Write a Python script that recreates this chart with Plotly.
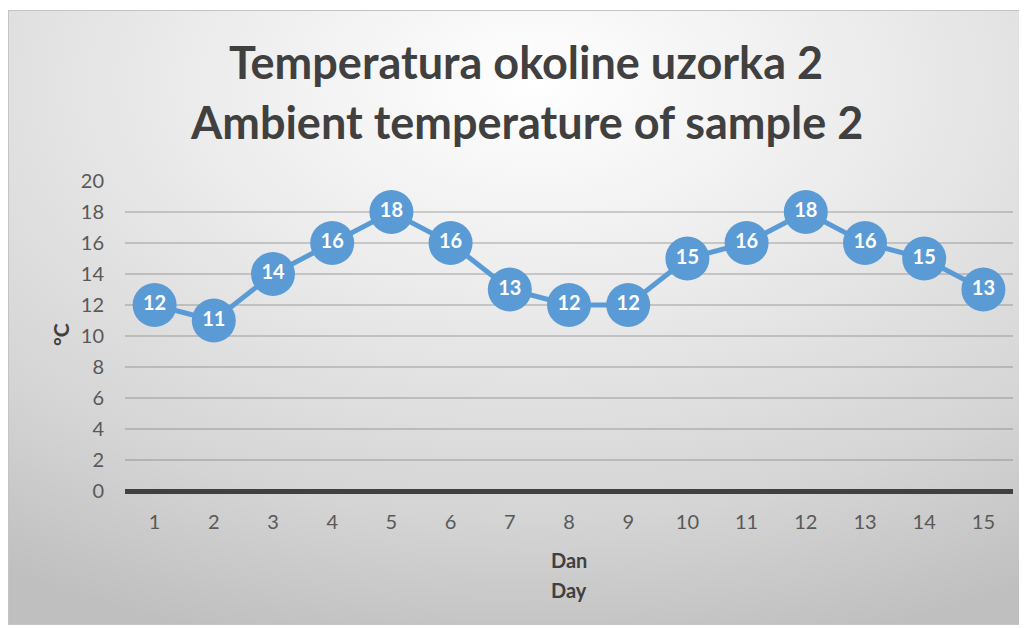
import base64
import plotly.graph_objects as go

days = [str(i) for i in range(1, 16)]
temps = [12, 11, 14, 16, 18, 16, 13, 12, 12, 15, 16, 18, 16, 15, 13]
y_ticks = list(range(0, 21, 2))
title_lines = ["Temperatura okoline uzorka 2", "Ambient temperature of sample 2"]
x_title_lines = ["Dan", "Day"]
y_title = "°C"

# page offset caused by default body margin
OFF = 8
W, H = 1027 - OFF, 628 - OFF
# plot area in page pixels
PX0, PX1, PY0, PY1 = 125, 1013, 181, 491
L, R, T, B = PX0 - OFF, (W + OFF) - PX1, PY0 - OFF, (H + OFF) - PY1
PW, PH = PX1 - PX0, PY1 - PY0

def px_to_paper_x(px):
    return (px - PX0) / PW

def px_to_paper_y(py):
    return (PY1 - py) / PH

svg = (
    '<svg xmlns="http://www.w3.org/2000/svg" width="1012" height="615" viewBox="0 0 1012 615" preserveAspectRatio="none">'
    '<defs><radialGradient id="g" cx="0.52" cy="0.12" r="0.95" fx="0.52" fy="0.12">'
    '<stop offset="0" stop-color="#ffffff"/>'
    '<stop offset="0.35" stop-color="#ececec"/>'
    '<stop offset="0.75" stop-color="#d4d4d4"/>'
    '<stop offset="1" stop-color="#bfbfbf"/>'
    '</radialGradient></defs>'
    '<rect x="0.5" y="0.5" width="1011" height="614" fill="url(#g)" stroke="#c4c4c4" stroke-width="1"/>'
    '</svg>'
)
src = "data:image/svg+xml;base64," + base64.b64encode(svg.encode()).decode()

fig = go.Figure()
fig.add_trace(go.Scatter(
    x=days, y=temps,
    mode="lines+markers+text",
    line=dict(color="#5b9bd5", width=5),
    marker=dict(size=44, color="#5b9bd5", line=dict(width=0)),
    text=[str(v) for v in temps],
    textposition="middle center",
    textfont=dict(family="Lato", size=20, color="white", weight="bold"),
    cliponaxis=False,
    hoverinfo="skip",
))

def ann(text, px, py, size, angle=0, color="#404040"):
    return dict(text=text, x=px_to_paper_x(px), y=px_to_paper_y(py),
                xref="paper", yref="paper", showarrow=False,
                xanchor="center", yanchor="middle", textangle=angle,
                font=dict(family="Lato", size=size, color=color))

annotations = [
    ann(f"<b>{title_lines[0]}</b>", 526, 62, 45),
    ann(f"<b>{title_lines[1]}</b>", 526, 122, 45),
    ann(f"<b>{x_title_lines[0]}</b>", 569, 560, 20),
    ann(f"<b>{x_title_lines[1]}</b>", 569, 590, 20),
    ann(f"<b>{y_title}</b>", 60, 335, 21, angle=-90),
]

fig.update_layout(
    width=W, height=H,
    margin=dict(l=L, r=R, t=T, b=B, pad=0),
    paper_bgcolor="white",
    plot_bgcolor="rgba(0,0,0,0)",
    showlegend=False,
    annotations=annotations,
    images=[dict(source=src, xref="paper", yref="paper",
                 x=px_to_paper_x(8), y=px_to_paper_y(10),
                 sizex=1012 / PW, sizey=615 / PH,
                 xanchor="left", yanchor="top", sizing="stretch", layer="below")],
    font=dict(family="Lato", color="#595959"),
)
fig.update_xaxes(
    type="category", range=[-0.5, 14.5],
    showgrid=False, showline=False, zeroline=False,
    ticks="outside", ticklen=13, tickcolor="rgba(0,0,0,0)",
    tickfont=dict(family="Lato", size=20, color="#595959"),
)
fig.update_yaxes(
    range=[0, 20], tickvals=y_ticks,
    showgrid=True, gridcolor="rgba(110,110,110,0.3)", gridwidth=2,
    zeroline=True, zerolinecolor="#404040", zerolinewidth=5,
    showline=False,
    ticks="outside", ticklen=16, tickcolor="rgba(0,0,0,0)",
    tickfont=dict(family="Lato", size=20, color="#595959"),
)

fig.write_html("out.html")
